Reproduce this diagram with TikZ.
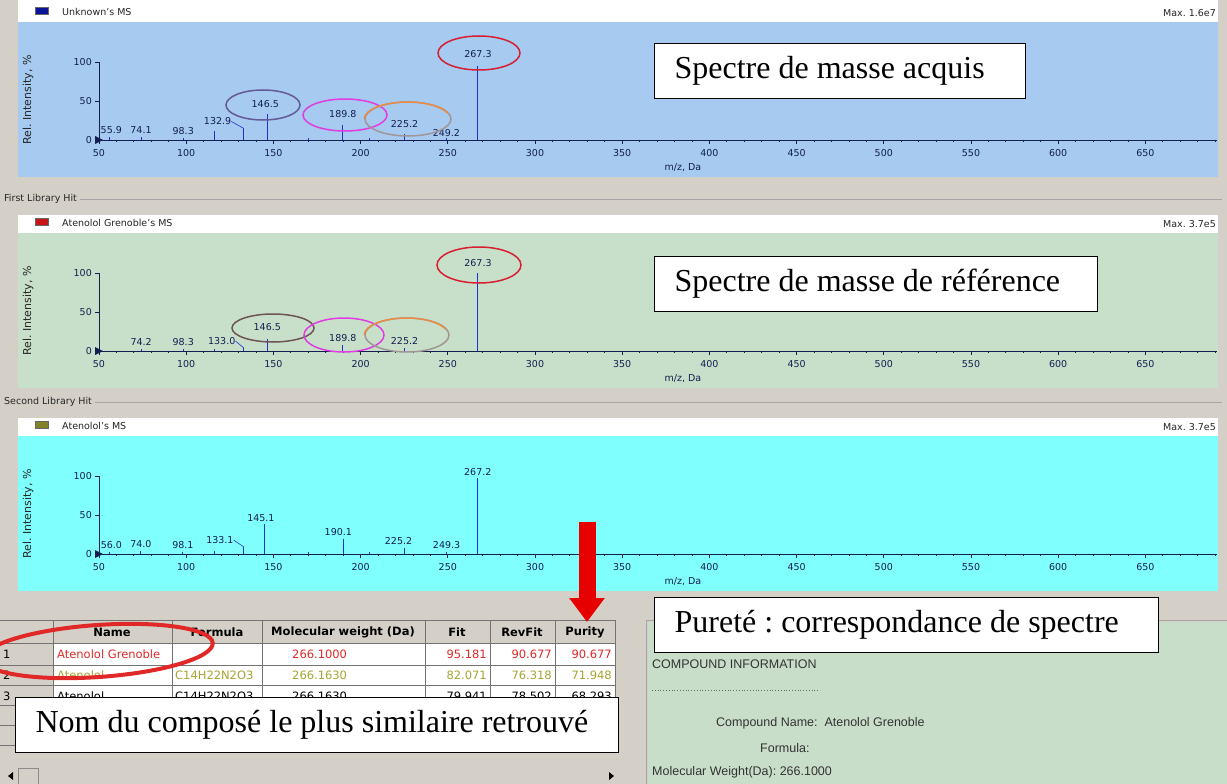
\documentclass[tikz,border=0pt]{standalone}
\usepackage{fontspec}
\setmainfont{Liberation Serif}
\setsansfont{DejaVu Sans}
\newfontfamily\infofamily{Liberation Sans}
\usepackage{tikz}
\usetikzlibrary{shapes.geometric,arrows.meta}
\frenchspacing
\definecolor{uigray}{RGB}{212,208,200}
\definecolor{bluearea}{RGB}{166,202,240}
\definecolor{greenarea}{RGB}{200,224,202}
\definecolor{cyanarea}{RGB}{128,255,255}
\definecolor{infogreen}{RGB}{200,222,200}
\definecolor{axisnavy}{RGB}{20,30,80}
\definecolor{peakblue}{RGB}{30,50,210}
\definecolor{ringred}{RGB}{215,30,50}
\definecolor{ringmagenta}{RGB}{225,60,225}
\definecolor{ringorange}{RGB}{235,140,70}
\definecolor{ringgray}{RGB}{160,150,150}
\definecolor{ringslate}{RGB}{100,90,150}
\definecolor{ringbrown}{RGB}{110,85,85}
\definecolor{keyblue}{RGB}{10,20,150}
\definecolor{keyred}{RGB}{200,20,20}
\definecolor{keyolive}{RGB}{130,130,40}
\definecolor{hitred}{RGB}{225,40,40}
\definecolor{hitolive}{RGB}{165,165,50}
\definecolor{arrowred}{RGB}{230,0,0}
\newcommand*{\plotfont}{\sffamily\fontsize{9.5}{11}\selectfont}
\newcommand*{\ylabfont}{\sffamily\fontsize{11}{12}\selectfont}
\newcommand*{\gridfont}{\sffamily\fontsize{11.5}{13}\selectfont}
\newcommand*{\infofont}{\infofamily\fontsize{12.5}{14}\selectfont}
\newcommand*{\notefont}{\rmfamily\fontsize{32}{36}\selectfont}
\tikzstyle{plottext}=[font=\plotfont,text=black!85,inner sep=0pt]
\tikzstyle{ticklabel}=[font=\plotfont,text=axisnavy,inner sep=0pt]
\tikzstyle{peaklabel}=[font=\plotfont,text=axisnavy,inner sep=0pt]
\tikzstyle{axisline}=[draw=axisnavy,line width=0.8pt]
\tikzstyle{peakline}=[draw=peakblue,line width=1pt]
\tikzstyle{peakring}=[ellipse,draw,line width=1.5pt,inner sep=0pt]
\tikzstyle{legendkey}=[draw=black!60,line width=0.4pt,minimum width=13pt,minimum height=7pt,inner sep=0pt]
\tikzstyle{notebox}=[draw=black,line width=1.2pt,fill=white,anchor=north west,font=\notefont,inner xsep=20pt,inner ysep=0pt,minimum height=55pt]
\tikzstyle{cellrule}=[draw=black!55,line width=0.6pt]
\tikzstyle{groove}=[draw=black!35,line width=0.8pt]
\tikzstyle{headtext}=[font=\gridfont\bfseries,inner sep=0pt]
\tikzstyle{celltext}=[font=\gridfont,inner sep=0pt]
\tikzstyle{infotext}=[font=\infofont,text=black!80,inner sep=0pt,anchor=west]
\newcommand*{\mz}[1]{{99+(#1-50)*1.744}}
\newcommand*{\notetext}[2]{\makebox[#1][l]{#2}}
\NewDocumentCommand{\panel}{ m m m m m m O{173} }{
  \pgfmathsetmacro{\phead}{#2}
  \pgfmathsetmacro{\parea}{#2+18}
  \pgfmathsetmacro{\pbot}{#2+#7}
  \pgfmathsetmacro{\pbase}{#2+136}
  \pgfmathsetmacro{\pfull}{#2+58}
  \fill[white] (18,\phead) rectangle (1218,\parea);
  \fill[#3] (18,\parea) rectangle (1218,\pbot);
  \node[legendkey,fill=#4] (#1key) at (42,\phead+7) {};
  \node[plottext,anchor=west] (#1title) at (62,\phead+8) {#5};
  \node[plottext,anchor=east] (#1max) at (1216,\phead+9) {Max. #6};
  \node[plottext,font=\ylabfont,rotate=90] (#1ylab) at (28,\pbase-40) {Rel. Intensity, \%};
  \draw[axisline] (\mz{50},\pfull) -- (\mz{50},\pbase) -- (1217,\pbase);
  \foreach \m in {60,70,...,690}
    \draw[axisline] (\mz{\m},\pbase) -- ++(0,2);
  \foreach \m in {50,100,...,650} {
    \draw[axisline] (\mz{\m},\pbase) -- ++(0,4);
    \node[ticklabel] (#1x\m) at (\mz{\m},\pbase+13) {\m};
  }
  \foreach \p in {0,50,100} {
    \draw[axisline] (\mz{50},{\pbase-\p*0.78}) -- ++(-4,0);
    \node[ticklabel,anchor=east] (#1y\p) at (92,{\pbase-\p*0.78}) {\p};
  }
  \fill[axisnavy] (95,\pbase-4) -- (103,\pbase) -- (95,\pbase+4) -- cycle;
  \node[ticklabel] (#1unit) at (683,\pbase+28) {m/z, Da};
}
\NewDocumentCommand{\peak}{ m m m O{} O{0} O{3} }{
  \draw[peakline] (\mz{#2},\pbase) -- ++(0,{-#3*0.78}) coordinate (#1);
  \if\relax\detokenize{#4}\relax\else
    \node[peaklabel,anchor=south] (#1txt) at ([xshift=#5,yshift=#6]#1) {#4};
  \fi
}
% two-tone ring: grey below, orange on top
\newcommand*{\tworing}[5]{
  \node[peakring,draw=ringgray,minimum width=#4pt,minimum height=#5pt] (#1) at (#2,#3) {};
  \draw[ringorange,line width=1.5pt] (#1.west) arc[start angle=180,end angle=340,x radius=#4/2,y radius=#5/2];
}
\newcommand*{\hitrow}[9]{
  \node[celltext,anchor=west] (row#1n) at (3,#2) {#1};
  \node[celltext,anchor=west,text=#3] (row#1name) at (57,#2) {#4};
  \node[celltext,anchor=west,text=#3] (row#1form) at (175,#2) {#5};
  \node[celltext,anchor=west,text=#3] (row#1mw) at (292,#2) {#6};
  \node[celltext,anchor=east,text=#3] (row#1fit) at (487,#2) {#7};
  \node[celltext,anchor=east,text=#3] (row#1rev) at (552,#2) {#8};
  \node[celltext,anchor=east,text=#3] (row#1pur) at (612,#2) {#9};
}
\begin{document}
\begin{tikzpicture}[x=1pt,y=-1pt]
  \useasboundingbox (0,0) rectangle (1227,784);
  \fill[uigray] (0,0) rectangle (1227,784);
  \fill[white] (18,0) rectangle (1218,4);
  % acquired spectrum
  \panel{acq}{4}{bluearea}{keyblue}{Unknown's MS}{1.6e7}
  \peak{acqa}{55.9}{4}[55.9][2]
  \peak{acqb}{74.1}{4}[74.1]
  \peak{acqc}{98.3}{3}[98.3]
  \peak{acqd}{116.5}{12}
  \peak{acqe}{132.9}{15}[132.9][-26]
  \peak{acqf}{146.5}{33}[146.5][-2][6]
  \peak{acqg}{170}{2}
  \peak{acqh}{189.8}{19}[189.8][0][7]
  \peak{acqi}{205}{3}
  \peak{acqj}{225.2}{8}[225.2][0][6]
  \peak{acqk}{249.2}{3}[249.2][0][1]
  \peak{acql}{267.3}{95}[267.3][0][8]
  \draw[peakline,line width=0.6pt] (acqetxt.east) -- (acqe);
  \node[peakring,draw=ringslate,minimum width=74pt,minimum height=30pt] (acqr146) at (263,105) {};
  \node[peakring,draw=ringmagenta,minimum width=84pt,minimum height=32pt] (acqr189) at (345,115) {};
  \tworing{acqr225}{408}{119}{86}{34}
  \node[peakring,draw=ringred,minimum width=82pt,minimum height=34pt] (acqr267) at (479,53) {};
  % first library hit
  \node[plottext,anchor=west] (grpref) at (4,199) {First Library Hit};
  \draw[groove] ([xshift=3pt]grpref.east) -- (1222,199);
  \panel{ref}{215}{greenarea}{keyred}{Atenolol Grenoble's MS}{3.7e5}
  \peak{refa}{74.2}{3}[74.2]
  \peak{refb}{98.3}{3}[98.3]
  \peak{refc}{116}{3}
  \peak{refd}{133.0}{4}[133.0][-22]
  \peak{refe}{146.5}{15}[146.5][0][8]
  \peak{reff}{189.8}{8}[189.8]
  \peak{refg}{225.2}{4}[225.2]
  \peak{refh}{267.3}{100}[267.3][0][6]
  \draw[peakline,line width=0.6pt] (refdtxt.east) -- (refd);
  \node[peakring,draw=ringbrown,minimum width=82pt,minimum height=28pt] (refr146) at (273,328) {};
  \node[peakring,draw=ringmagenta,minimum width=80pt,minimum height=34pt] (refr189) at (344,335) {};
  \tworing{refr225}{407}{335}{84}{34}
  \node[peakring,draw=ringred,minimum width=84pt,minimum height=36pt] (refr267) at (479,265) {};
  % second library hit
  \node[plottext,anchor=west] (grpalt) at (4,402) {Second Library Hit};
  \draw[groove] ([xshift=3pt]grpalt.east) -- (1222,402);
  \panel{alt}{418}{cyanarea}{keyolive}{Atenolol's MS}{3.7e5}
  \peak{alta}{56.0}{3}[56.0][2]
  \peak{altb}{74.0}{4}[74.0]
  \peak{altc}{98.1}{3}[98.1]
  \peak{altd}{116}{4}
  \peak{alte}{133.1}{9}[133.1][-24]
  \peak{altf}{145.1}{38}[145.1][-4]
  \peak{altg}{170}{3}
  \peak{alth}{190.1}{19}[190.1][-5]
  \peak{alti}{205}{3}
  \peak{altj}{225.2}{8}[225.2][-6]
  \peak{altk}{249.3}{3}[249.3]
  \peak{altl}{267.2}{97}[267.2]
  \draw[peakline,line width=0.6pt] (altetxt.east) -- (alte);
  % hit list
  \fill[white] (53,643) rectangle (615,745);
  \fill[uigray] (0,620) rectangle (615,643);
  \foreach \y in {620,643,665,685,705,725,745}
    \draw[cellrule] (0,\y) -- (615,\y);
  \foreach \x in {53,172,262,425,490,555,615}
    \draw[cellrule] (\x,620) -- (\x,745);
  \node[headtext] (hname) at (112,632) {Name};
  \node[headtext] (hform) at (217,632) {Formula};
  \node[headtext] (hmw) at (343,632) {Molecular weight (Da)};
  \node[headtext] (hfit) at (457,632) {Fit};
  \node[headtext] (hrev) at (522,632) {RevFit};
  \node[headtext] (hpur) at (585,632) {Purity};
  \hitrow{1}{654}{hitred}{Atenolol Grenoble}{}{266.1000}{95.181}{90.677}{90.677}
  \hitrow{2}{675}{hitolive}{Atenolol}{C14H22N2O3}{266.1630}{82.071}{76.318}{71.948}
  \hitrow{3}{696}{black}{Atenolol}{C14H22N2O3}{266.1630}{79.941}{78.502}{68.293}
  \node[peakring,draw=hitred,line width=4pt,minimum width=230pt,minimum height=52pt,rotate=4] (namering) at (98,651) {};
  % scroll bar
  \fill[black] (8,776) -- (13,772) -- (13,780) -- cycle;
  \draw[black!45] (18,768) rectangle (38,784);
  \fill[black] (614,776) -- (609,772) -- (609,780) -- cycle;
  % compound information
  \fill[infogreen] (648,622) rectangle (1227,784);
  \draw[groove] (646,784) -- (646,620) -- (1227,620);
  \node[infotext] (cihead) at (652,664) {COMPOUND INFORMATION};
  \draw[black!60,dotted,line width=0.8pt] (652,690) -- (820,690);
  \node[infotext] (ciname) at (716,723) {Compound Name:\ \ Atenolol Grenoble};
  \node[infotext] (ciform) at (760,748) {Formula:};
  \node[infotext] (cimw) at (652,772) {Molecular Weight(Da): 266.1000};
  % callouts
  \node[notebox] (noteacq) at (654,43) {\notetext{331pt}{Spectre de masse acquis}};
  \node[notebox] (noteref) at (654,256) {\notetext{403pt}{Spectre de masse de r\'ef\'erence}};
  \node[notebox] (notepur) at (654,597) {\notetext{464pt}{Puret\'e : correspondance de spectre}};
  \node[notebox] (notename) at (15,697) {\notetext{563pt}{Nom du compos\'e le plus similaire retrouv\'e}};
  \coordinate (arrowtop) at (587,522);
  \coordinate (arrowtip) at (587,622);
  \draw[arrowred,line width=17pt,-{Triangle[width=34pt,length=24pt]}] (arrowtop) -- (arrowtip);
\end{tikzpicture}
\end{document}
